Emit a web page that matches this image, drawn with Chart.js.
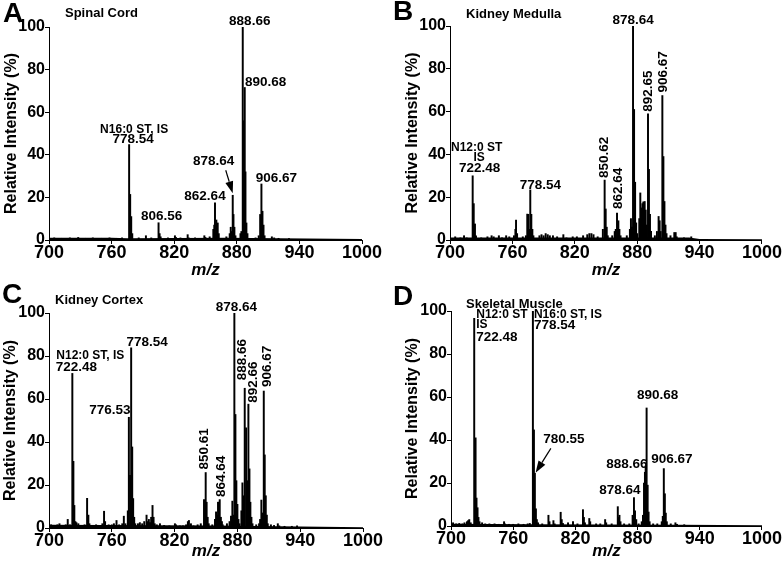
<!DOCTYPE html>
<html>
<head>
<meta charset="utf-8">
<script src="https://cdn.jsdelivr.net/npm/chart.js@4.4.1/dist/chart.umd.min.js"></script>
<style>
  html, body { margin: 0; padding: 0; background: #fff; overflow: hidden; }
  #wrap { position: relative; width: 782px; height: 562px; }
  canvas { position: absolute; }
</style>
</head>
<body>
<div id="wrap">
  <canvas id="cA" width="391" height="281" style="left:0;top:0"></canvas>
  <canvas id="cB" width="391" height="281" style="left:391px;top:0"></canvas>
  <canvas id="cC" width="391" height="281" style="left:0;top:281px"></canvas>
  <canvas id="cD" width="391" height="281" style="left:391px;top:281px"></canvas>
</div>
<script>
const xTicks = [700, 760, 820, 880, 940, 1000];
const yTicks = [0, 20, 40, 60, 80, 100];

// A - Spinal Cord
const spinalMz = [705, 712, 720, 728, 735, 742, 750, 758, 765, 770,
  776.8, 777.8, 778.8, 779.8, 786, 792.9, 798, 805, 806, 807, 814, 820.7, 821.7, 826, 832.9, 833.9, 840, 848.9, 849.9,
  854, 857.5, 858.4, 859.1, 860.4, 861.7, 862.7, 870, 873.2, 874.2, 875.2, 876.1, 876.8, 877.7, 878.7,
  883.5, 884.4, 885.7, 886.7, 887.6, 888.3, 889.2, 890.2, 898, 901, 902.4, 903.6, 904.6, 905.6, 906.6,
  913.6, 915.8, 920, 930];
const spinalInt = [1, 0.8, 1, 1.2, 0.8, 1, 0.8, 1, 0.8, 1,
  44.8, 21.4, 11, 3, 1, 2, 1, 8.1, 3, 1.5, 1, 2, 1.2, 1, 2.5, 1, 1, 2, 1.2,
  1.5, 5, 7, 17.5, 9.4, 8, 3, 1.5, 3, 6, 4, 21, 12, 6, 2,
  3, 4, 100, 56, 71.6, 32, 8, 3, 1, 2, 12, 26.3, 13.5, 7, 2,
  1.5, 1, 0.8, 0.7];
const spinalBaseMz = [700, 760, 775, 870, 920, 1000];
const spinalBaseInt = [1, 1, 0.8, 1, 0.8, 0.5];

// B - Kidney Medulla
const medullaMz = [705, 710, 713.5, 716, 721.8, 722.8, 724, 725, 730, 736, 740, 742, 747, 750, 754, 757,
  761.5, 762.9, 763.5, 764.5, 770, 773, 774.3, 775.3, 776.3, 777.2, 778.2, 779.2, 780.2,
  786, 788, 790, 792, 794, 796, 799, 803, 809, 812, 818, 822, 828, 832, 834, 836, 838, 842,
  847, 848.7, 849.7, 850.7, 851.7, 856, 858.4, 859.4, 860.6, 861.9, 862.9, 864,
  870, 873, 874, 875, 876, 877, 878, 879, 880, 882, 883, 884.3, 885, 885.9, 887.2, 888.2, 889.3,
  890.4, 891.3, 892.3, 893.3, 897, 899, 900.6, 901.6, 902.6, 904.2, 905.2, 906.2, 907.2, 908.2,
  912, 915.7, 917, 918, 925, 932];
const medullaInt = [1.5, 1, 2, 1, 30, 17, 7.5, 2, 1, 1.5, 2, 1.5, 2, 1, 2, 1.5,
  2, 5, 9.3, 3, 1.5, 2, 12.1, 12, 5, 23.4, 12, 5, 2,
  2, 2.5, 2, 3, 2.5, 2, 2, 1.5, 2.5, 1, 1.5, 1.5, 2, 2.5, 3, 3, 2.5, 1.5,
  5, 28, 14.5, 6, 2, 2, 4, 5, 12.6, 9, 5, 2,
  2, 5, 10, 6, 100, 61, 27, 8, 3, 10, 22, 15, 17, 17.8, 18, 14, 7,
  59, 33, 12, 4, 2, 4, 11, 9, 4, 67.5, 39, 18, 7, 3,
  2, 3.5, 3.5, 1.5, 1, 1.5];
const medullaBaseMz = [700, 930, 940, 1000];
const medullaBaseInt = [1.2, 1.2, 0.5, 0.4];

// C - Kidney Cortex
const cortexMz = [702, 705, 708, 710, 713, 716, 717.9, 720, 722.3, 723.3, 724.2, 725.2, 726.2, 728, 731, 734,
  736.4, 737.6, 738.6, 742, 745, 748, 751, 752.6, 753.6, 757, 760, 762, 764.5, 767, 770, 771.5, 773,
  775.3, 776.3, 777.5, 778.5, 779.5, 780.4, 781.4, 782.4, 785, 786.8, 789, 791, 793.2, 794.2, 795.4, 796.5,
  797.6, 798.9, 799.9, 801, 803, 806, 810, 815, 820.3, 821.3, 825, 828, 831, 832.7, 833.7, 835.6, 838, 842, 845,
  848.1, 849.7, 850.6, 851.6, 852.6, 856, 858.6, 859.6, 860.5, 861.5, 862.1, 863.1, 864.2, 865.2, 866,
  870, 872.5, 873.9, 875.2, 876.2, 877.1, 878.1, 879, 880, 881, 882,
  883.8, 884.8, 886, 887, 888.3, 889.3, 890.5, 891.5, 892.4, 893.4, 894.4,
  898, 900.7, 901.7, 902.9, 903.9, 905.2, 906.1, 907.1, 908.1, 909, 912, 915, 918.6, 920, 925, 932, 937];
const cortexInt = [1.5, 1.2, 1.5, 2, 1.2, 1.5, 4, 1.5, 71.9, 31, 10.5, 3, 2.5, 2, 1.2, 1.5,
  13.8, 6, 2, 1.2, 1.5, 1, 2, 7.8, 3, 1.5, 1.5, 2, 3.5, 1.5, 2, 5.5, 2,
  8, 51.5, 24.5, 83.8, 37.7, 13.7, 5, 2, 2, 2.5, 2, 3, 6, 3, 4, 2.5,
  5, 10.5, 5, 2, 1.5, 2, 1.2, 1, 2, 1.5, 1, 1, 1.5, 3, 3.5, 2, 1, 1.5, 2,
  13.2, 25.8, 12, 5, 2, 1.5, 4, 7.5, 6, 12, 12, 13.2, 5, 3, 1.5,
  2, 3, 5.5, 12.5, 6, 100, 52.8, 22, 11, 4, 2,
  8, 21, 15, 65, 46.6, 22, 57.6, 27.5, 12, 5, 2,
  1.5, 2, 4, 13, 7, 63.7, 34, 15, 6, 2, 1.5, 1.2, 2, 1, 0.8, 0.8, 1];
const cortexBaseMz = [700, 860, 920, 1000];
const cortexBaseInt = [1.5, 1.2, 0.8, 0.4];

// D - Skeletal Muscle
const muscleMz = [702, 705, 708, 711, 713, 715.4, 716.5, 717.6, 719, 722.4, 723.7, 724.6, 725.6, 726.5, 727.5,
  730, 733, 737, 742, 746, 751.2, 752, 756, 760, 765, 770, 774, 776,
  779, 780, 780.9, 781.9, 782.8, 784, 788, 794, 795, 798.8, 800, 805.8, 806.8, 808, 812.9, 817.7, 822,
  827.3, 828.2, 829.2, 833.4, 834.3, 840, 844, 848.7, 849.7, 855,
  860.9, 861.9, 862.5, 863.5, 867, 872, 875.2, 876.5, 877.5, 878.7, 881,
  884, 885.2, 886.2, 887.1, 887.8, 888.7, 889.7, 890.6, 891.6,
  895, 899, 903.3, 904.3, 905.3, 906.3, 907.2, 908.2, 912, 916.5, 918, 925];
const muscleInt = [1.5, 1, 1.2, 1, 1.5, 2, 2.5, 3, 1.5, 96.6, 41, 13, 8.5, 4, 2,
  1.5, 1, 1, 1, 0.8, 2, 1, 0.8, 0.8, 1, 0.8, 1, 1.2,
  100, 44.7, 24.5, 8, 3, 1.5, 1, 5, 2, 2.5, 1, 6.4, 3, 1.2, 1.5, 2, 1,
  7.6, 4, 1.5, 3.5, 2, 1, 1, 3, 1.5, 1,
  9, 4, 5, 2, 1, 1, 5, 13.2, 7, 3, 1,
  2, 5, 20, 25, 28, 54.9, 19, 6.5, 2,
  1, 1, 2, 4.5, 26.7, 15, 6, 2, 1, 1.5, 0.8, 0.6];
const muscleBaseMz = [700, 780, 920, 1000];
const muscleBaseInt = [1, 0.8, 0.6, 0.4];

// ---- etiquetas de picos (anclaje en el pico + desplazamiento en px) ----
const spinalLabels = [
  { t: 'N16:0 ST, IS', mz: 776.8, i: 44.8, dx: 5, dy: -12, s: 12 },
  { t: '778.54', mz: 776.8, i: 44.8, dx: 4, dy: -2 },
  { t: '806.56', mz: 805, i: 8.1, dx: 3, dy: -3 },
  { t: '862.64', mz: 859.1, i: 17.5, dx: -10, dy: -3 },
  { t: '878.64', mz: 876.1, i: 21, dx: -19, dy: -30 },
  { t: '888.66', mz: 885.7, i: 100, dx: 7, dy: -2 },
  { t: '890.68', mz: 887.6, i: 71.6, dx: 21, dy: -1 },
  { t: '906.67', mz: 903.6, i: 26.3, dx: 15, dy: -2 }
];
const medullaLabels = [
  { t: 'N12:0 ST', mz: 721.8, i: 30, dx: 4, dy: -25, s: 12 },
  { t: 'IS', mz: 721.8, i: 30, dx: 6.5, dy: -15, s: 12 },
  { t: '722.48', mz: 721.8, i: 30, dx: 7, dy: -4 },
  { t: '778.54', mz: 777.2, i: 23.4, dx: 10, dy: -1 },
  { t: '850.62', mz: 848.7, i: 28, dx: 0, dy: -2, r: true },
  { t: '862.64', mz: 860.6, i: 12.6, dx: 1, dy: -4, r: true },
  { t: '878.64', mz: 876, i: 100, dx: 0, dy: -2 },
  { t: '892.65', mz: 890.4, i: 59, dx: 0, dy: -2, r: true },
  { t: '906.67', mz: 904.2, i: 67.5, dx: 0.5, dy: -3, r: true }
];
const cortexLabels = [
  { t: 'N12:0 ST, IS', mz: 722.3, i: 71.9, dx: 18, dy: -14.5, s: 12 },
  { t: '722.48', mz: 722.3, i: 71.9, dx: 4, dy: -2 },
  { t: '778.54', mz: 778.5, i: 83.8, dx: 16, dy: -2 },
  { t: '776.53', mz: 776.3, i: 51.5, dx: -19, dy: -3 },
  { t: '850.61', mz: 849.7, i: 25.8, dx: -1, dy: -3, r: true },
  { t: '864.64', mz: 863.1, i: 13.2, dx: 1.5, dy: -2.5, r: true },
  { t: '878.64', mz: 877.1, i: 100, dx: 2, dy: -2 },
  { t: '888.66', mz: 887, i: 65, dx: -2.5, dy: -8, r: true },
  { t: '892.66', mz: 890.5, i: 57.6, dx: 5, dy: -1.5, r: true },
  { t: '906.67', mz: 905.2, i: 63.7, dx: 4, dy: -4, r: true }
];
const muscleLabels = [
  { t: 'N12:0 ST', mz: 722.4, i: 96.6, dx: 2, dy: -0.6, s: 12, a: 'left' },
  { t: 'IS', mz: 722.4, i: 96.6, dx: 2, dy: 9.4, s: 12, a: 'left' },
  { t: '722.48', mz: 722.4, i: 96.6, dx: 2, dy: 22.7, a: 'left' },
  { t: 'N16:0 ST, IS', mz: 779, i: 100, dx: 1, dy: 6.7, s: 12, a: 'left' },
  { t: '778.54', mz: 779, i: 100, dx: 1, dy: 18.3, a: 'left' },
  { t: '780.55', mz: 780.9, i: 24.5, dx: 29, dy: -30.6 },
  { t: '878.64', mz: 876.5, i: 13.2, dx: -14, dy: -4 },
  { t: '888.66', mz: 887.1, i: 25, dx: -18, dy: -4.6 },
  { t: '890.68', mz: 888.7, i: 54.9, dx: 11, dy: -9 },
  { t: '906.67', mz: 905.3, i: 26.7, dx: 8, dy: -6 }
];

const FONT = '"Liberation Sans", Arial, Helvetica, sans-serif';

// "Dibuja letras, titulos, etiquetas y flechas encima del grafico"
function annotPlugin(p) {
  return {
    id: 'annot',
    afterDraw(chart) {
      const ctx = chart.ctx;
      const xs = chart.scales.x, ys = chart.scales.y;
      ctx.save();
      ctx.fillStyle = '#000';
      ctx.strokeStyle = '#000';
      ctx.textBaseline = 'alphabetic';
      ctx.textAlign = 'left';
      ctx.font = 'bold 28px ' + FONT;
      ctx.fillText(p.letter, p.letterPos[0], p.letterPos[1]);
      ctx.font = 'bold 13px ' + FONT;
      ctx.fillText(p.name, p.namePos[0], p.namePos[1]);

      p.labels.forEach(l => {
        const px = xs.getPixelForValue(l.mz) + l.dx;
        const py = ys.getPixelForValue(l.i) + l.dy;
        ctx.font = 'bold ' + (l.s || 13.5) + 'px ' + FONT;
        if (l.r) {
          ctx.save();
          ctx.translate(px, py);
          ctx.rotate(-Math.PI / 2);
          ctx.textAlign = 'left';
          ctx.textBaseline = 'middle';
          ctx.fillText(l.t, 0, 0);
          ctx.restore();
        } else {
          ctx.textAlign = l.a || 'center';
          ctx.textBaseline = 'alphabetic';
          ctx.fillText(l.t, px, py);
        }
      });

      (p.arrows || []).forEach(a => {
        const bx = xs.getPixelForValue(a.mz), by = ys.getPixelForValue(a.i);
        const x0 = bx + a.x0, y0 = by + a.y0, x1 = bx + a.x1, y1 = by + a.y1;
        const ang = Math.atan2(y1 - y0, x1 - x0);
        const hl = 12, hw = 4;
        const hx = x1 - hl * Math.cos(ang), hy = y1 - hl * Math.sin(ang);
        ctx.lineWidth = 1.2;
        ctx.beginPath();
        ctx.moveTo(x0, y0);
        ctx.lineTo(hx, hy);
        ctx.stroke();
        ctx.beginPath();
        ctx.moveTo(x1, y1);
        ctx.lineTo(hx + hw * Math.sin(ang), hy - hw * Math.cos(ang));
        ctx.lineTo(hx - hw * Math.sin(ang), hy + hw * Math.cos(ang));
        ctx.closePath();
        ctx.fill();
      });
      ctx.restore();
    }
  };
}

function makePanel(id, p) {
  const ctx = document.getElementById(id).getContext('2d');
  new Chart(ctx, {
    type: 'bar',
    data: {
      datasets: [
        {
          type: 'bar',
          data: p.mz.map((x, k) => ({ x: x, y: p.int[k] })),
          backgroundColor: '#000',
          barThickness: 1.3,
          order: 1
        },
        {
          type: 'line',
          data: p.baseMz.map((x, k) => ({ x: x, y: p.baseInt[k] })),
          borderWidth: 0,
          borderColor: '#000',
          backgroundColor: '#000',
          fill: 'origin',
          pointRadius: 0,
          tension: 0,
          order: 2
        }
      ]
    },
    options: {
      responsive: false,
      animation: false,
      events: [],
      layout: { padding: { top: p.padTop, right: p.padRight, left: 0, bottom: 0 } },
      plugins: { legend: { display: false }, tooltip: { enabled: false } },
      scales: {
        x: {
          type: 'linear',
          min: 700,
          max: 1000,
          offset: false,
          afterBuildTicks: s => { s.ticks = xTicks.map(v => ({ value: v })); },
          ticks: { color: '#000', padding: 0, maxRotation: 0, autoSkip: false,
                   callback: v => String(v),
                   font: { family: FONT, size: 18, weight: 'bold', lineHeight: 1 } },
          grid: { display: true, drawOnChartArea: false, tickLength: 4, color: '#000', offset: false },
          border: { display: true, color: '#000', width: 1 },
          title: { display: true, text: 'm/z', color: '#000', padding: { top: 0, bottom: 2 },
                   font: { family: FONT, size: 17, weight: 'bold', style: 'italic', lineHeight: 1 } },
          afterFit: s => { s.height = p.xAxisH; }
        },
        y: {
          min: 0,
          max: 100,
          afterBuildTicks: s => { s.ticks = yTicks.map(v => ({ value: v })); },
          ticks: { color: '#000', padding: 0,
                   callback: v => String(v),
                   font: { family: FONT, size: 16, weight: 'bold', lineHeight: 1 } },
          grid: { display: true, drawOnChartArea: false, tickLength: 4, color: '#000' },
          border: { display: true, color: '#000', width: 1 },
          title: { display: true, text: 'Relative Intensity (%)', color: '#000',
                   padding: { top: p.yTitlePad, bottom: 0 },
                   font: { family: FONT, size: 16, weight: 'bold', lineHeight: 1.2 } },
          afterFit: s => { s.width = p.yAxisW; }
        }
      }
    },
    plugins: [annotPlugin(p)]
  });
}

makePanel('cA', { mz: spinalMz, int: spinalInt, baseMz: spinalBaseMz, baseInt: spinalBaseInt,
  labels: spinalLabels, arrows: [{ mz: 876.1, i: 21, x0: -7, y0: -25, x1: 0, y1: -2 }],
  letter: 'A', letterPos: [3, 22], name: 'Spinal Cord', namePos: [65, 17],
  yAxisW: 49, padTop: 27, padRight: 29, xAxisH: 41, yTitlePad: 2 });

makePanel('cB', { mz: medullaMz, int: medullaInt, baseMz: medullaBaseMz, baseInt: medullaBaseInt,
  labels: medullaLabels,
  letter: 'B', letterPos: [2, 20], name: 'Kidney Medulla', namePos: [75, 18],
  yAxisW: 59, padTop: 26, padRight: 19, xAxisH: 41, yTitlePad: 12 });

makePanel('cC', { mz: cortexMz, int: cortexInt, baseMz: cortexBaseMz, baseInt: cortexBaseInt,
  labels: cortexLabels,
  letter: 'C', letterPos: [2, 22], name: 'Kidney Cortex', namePos: [55, 23],
  yAxisW: 49, padTop: 32, padRight: 28, xAxisH: 34, yTitlePad: 0.5 });

makePanel('cD', { mz: muscleMz, int: muscleInt, baseMz: muscleBaseMz, baseInt: muscleBaseInt,
  labels: muscleLabels, arrows: [{ mz: 780.9, i: 24.5, x0: 16, y0: -25, x1: 0.7, y1: -0.6 }],
  letter: 'D', letterPos: [2, 24], name: 'Skeletal Muscle', namePos: [75, 27],
  yAxisW: 60, padTop: 30, padRight: 18, xAxisH: 36, yTitlePad: 12 });
</script>
</body>
</html>
